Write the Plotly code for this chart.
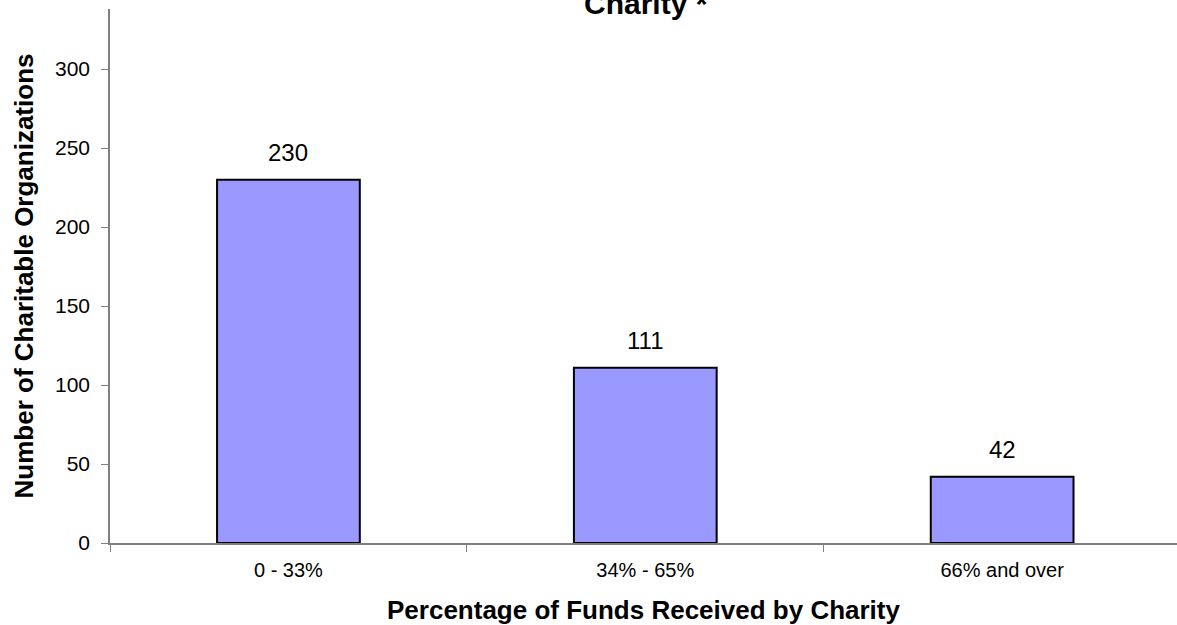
import plotly.graph_objects as go

categories = ["0 - 33%", "34% - 65%", "66% and over"]
values = [230, 111, 42]
y_ticks = [0, 50, 100, 150, 200, 250, 300]

FONT = "Arial, Liberation Sans, sans-serif"

fig = go.Figure()
fig.add_trace(go.Bar(
    x=categories, y=values,
    width=0.4,
    marker=dict(color="#9999FF", line=dict(color="#000000", width=2)),
    hoverinfo="x+y",
))

for c, v in zip(categories, values):
    fig.add_annotation(x=c, y=v, text=str(v), showarrow=False,
                       yanchor="bottom", yshift=12,
                       font=dict(family=FONT, size=24, color="#000"))

fig.add_annotation(xref="paper", yref="paper", x=0.502, y=1, yshift=-13,
                   yanchor="bottom", text="<b>Charity *</b>", showarrow=False,
                   font=dict(family=FONT, size=30, color="#000"))

fig.update_layout(
    width=1177, height=625,
    margin=dict(l=110, r=0, t=9, b=82),
    paper_bgcolor="white", plot_bgcolor="white",
    showlegend=False,
    font=dict(family=FONT, color="#000"),
    bargap=0.6,
)
fig.update_xaxes(
    type="category", range=[-0.5, 2.49], automargin=False,
    showline=True, linecolor="#808080", linewidth=1.5,
    ticks="outside", tickson="boundaries", ticklen=7, tickcolor="#808080",
    tickfont=dict(family=FONT, size=20), ticklabelstandoff=8,
    title=dict(text="<b>Percentage of Funds Received by Charity</b>",
               font=dict(family=FONT, size=26), standoff=21),
    showgrid=False,
)
fig.update_yaxes(
    range=[0, 338], tickvals=y_ticks, automargin=False,
    showline=True, linecolor="#808080", linewidth=1.5,
    ticks="outside", ticklen=7, tickcolor="#808080",
    tickfont=dict(family=FONT, size=21), ticklabelstandoff=7,
    title=dict(text="<b>Number of Charitable Organizations</b>",
               font=dict(family=FONT, size=26), standoff=14),
    showgrid=False, zeroline=False,
)

fig.write_html("out.html", config={"displayModeBar": False},
               post_script="document.body.style.margin='0';document.body.style.padding='0';")
